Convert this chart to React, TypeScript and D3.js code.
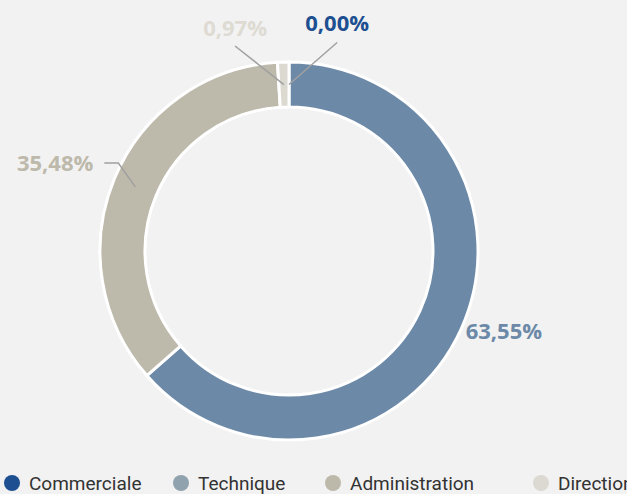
import React from "react";
import * as d3 from "d3";

const categories = ["Commerciale", "Technique", "Administration", "Direction"];
const shares = [0, 63.55, 35.48, 0.97];
const labels = ["0,00%", "63,55%", "35,48%", "0,97%"];
const sliceColors = ["#1d4f91", "#6c89a8", "#bdb9ab", "#dcd9d1"];
const legendColors = ["#1d4f91", "#8fa2ae", "#bdb9aa", "#dcd9d2"];
const labelColors = ["#1d4f91", "#6c89a8", "#bdb9ab", "#dedbd3"];

const W = 627;
const H = 494;
const cx = 289;
const cy = 251;
const outerR = 189;
const innerR = 144;
const midR = (outerR + innerR) / 2;

// label layout: angle shift (deg) and radius for the label anchor, connector style
const labelLayout = [
  { shift: 13, r: 214, anchor: "middle", connector: "straight", dy: -12 },
  { shift: 0, r: 194, anchor: "start", connector: "none", dy: 8 },
  { shift: 4.6, r: 192, anchor: "end", connector: "elbow", dy: 8 },
  { shift: -13, r: 212, anchor: "middle", connector: "straight", dy: -10 },
];
const legendX = [12, 181, 333, 541];

const polar = (a: number, r: number): [number, number] => [
  Math.sin(a) * r,
  -Math.cos(a) * r,
];

export default function App() {
  const data = categories.map((c, i) => ({ name: c, value: shares[i] }));
  const pie = d3
    .pie<{ name: string; value: number }>()
    .sort(null)
    .value((d) => d.value);
  const arcs = pie(data);
  const arc = d3
    .arc<d3.PieArcDatum<{ name: string; value: number }>>()
    .innerRadius(innerR)
    .outerRadius(outerR);

  return (
    <div style={{ position: "fixed", left: 0, top: 0 }}>
      <svg width={W} height={H} style={{ display: "block", background: "#f2f2f2" }}>
        <g transform={`translate(${cx},${cy})`}>
          {arcs.map((a, i) => (
            <path
              key={i}
              d={arc(a) || ""}
              fill={sliceColors[i]}
              stroke="#ffffff"
              strokeWidth={3}
              strokeLinejoin="round"
            />
          ))}
          {arcs.map((a, i) => {
            const lay = labelLayout[i];
            const mid = (a.startAngle + a.endAngle) / 2;
            const [sx, sy] = polar(mid, midR);
            const [lx, ly] = polar(mid + (lay.shift * Math.PI) / 180, lay.r);
            let conn = null;
            let tx = lx;
            let ty = ly;
            if (lay.connector === "straight") {
              conn = (
                <polyline
                  points={`${lx},${ly} ${sx},${sy}`}
                  fill="none"
                  stroke="#a0a0a0"
                  strokeWidth={1.5}
                />
              );
              tx = lx;
              ty = ly + lay.dy;
            } else if (lay.connector === "elbow") {
              const ex = lx - 14;
              conn = (
                <polyline
                  points={`${ex},${ly} ${lx},${ly} ${sx},${sy}`}
                  fill="none"
                  stroke="#a0a0a0"
                  strokeWidth={1.5}
                />
              );
              tx = ex - 11;
              ty = ly + lay.dy;
            } else {
              ty = ly + lay.dy;
            }
            return (
              <g key={"l" + i}>
                {conn}
                <text
                  x={tx}
                  y={ty}
                  textAnchor={lay.anchor as any}
                  fill={labelColors[i]}
                  fontFamily="'Open Sans', sans-serif"
                  fontWeight={700}
                  fontSize={22}
                >
                  {labels[i]}
                </text>
              </g>
            );
          })}
        </g>
        <g>
          {categories.map((c, i) => (
            <g key={"lg" + i} transform={`translate(${legendX[i]},483)`}>
              <circle r={8} fill={legendColors[i]} />
              <text
                x={17}
                y={7}
                fill="#333333"
                fontFamily="Roboto, sans-serif"
                fontSize={19}
              >
                {c}
              </text>
            </g>
          ))}
        </g>
      </svg>
    </div>
  );
}
